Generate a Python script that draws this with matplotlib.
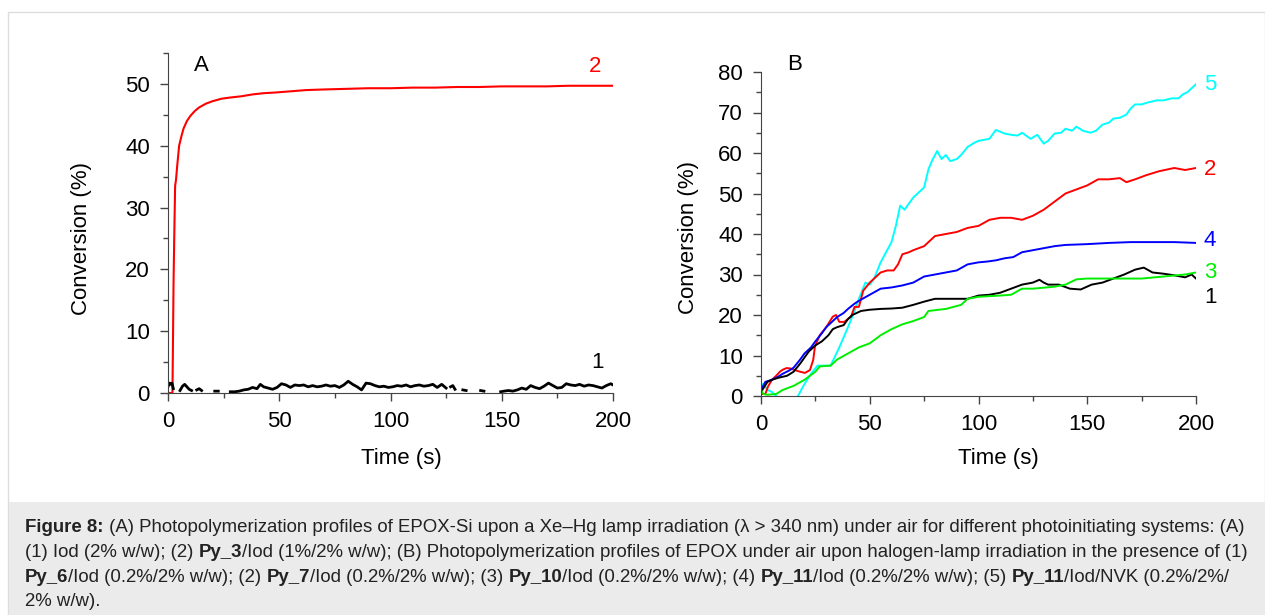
import numpy as np
import matplotlib
matplotlib.use('Agg')
import matplotlib.pyplot as plt
from matplotlib.patches import Rectangle
from matplotlib.ticker import MultipleLocator

nan = np.nan

# Panel A - Xe-Hg lamp, EPOX-Si
a2_t = [0, 2.0, 2.2, 2.5, 2.8, 3.2, 3.6, 4.2, 5, 6, 7, 8.5, 10, 12, 14, 17, 20, 24, 28, 33, 38,
        43, 48, 55, 62, 70, 80, 90, 100, 110, 120, 130, 140, 150, 160, 170, 180, 190, 200]
a2_y = [0, 0, 7, 18, 25, 33.5, 34.5, 37, 40, 41.5, 42.8, 44, 44.8, 45.6, 46.2, 46.8, 47.2, 47.6, 47.8, 48.0, 48.3,
        48.5, 48.6, 48.8, 49.0, 49.1, 49.2, 49.3, 49.3, 49.4, 49.4, 49.5, 49.5, 49.6, 49.6, 49.6, 49.7, 49.7, 49.7]

a1_t = [0, 0.6, 1.2, 1.8, 2.4, nan,
        5.4, 6.5, 7.5, 8.5, 9.5, 10.6, nan,
        12.9, 14, 15.1, nan,
        21, 22.6, nan,
        28, 30, 32, 34, 36, 38, 40, 41.5, 43, 45, 47, 49, 51, 53, 55, 57, 59, 61, 63, 65, 67, 69,
        71, 73, 75, 77, 79, 81, 83, 85, 87, 89, 91, 93, 95, 97, 99, 101, 103, 105, 107, 109, 111,
        113, 115, 117, 119, 121, 123, 125, nan,
        127, 128, 129, nan,
        132.5, 134, nan,
        140.5, 142, nan,
        149.5, 151, 153, 155, 157, 159, 161, 163, 165, 167, 169, 171, 173, 175, 177, 179, 181,
        183, 185, 187, 189, 191, 193, 195, 197, 199, 200]
a1_y = [1.0, 1.6, 1.4, 1.6, 0.7, nan,
        0.4, 1.1, 1.4, 1.0, 0.6, 0.4, nan,
        0.5, 0.7, 0.4, nan,
        0.3, 0.3, nan,
        0.2, 0.2, 0.3, 0.5, 0.6, 0.9, 0.7, 1.4, 1.0, 0.8, 0.6, 0.9, 1.5, 1.3, 0.9, 1.3, 1.2, 1.3, 1.0, 1.2,
        1.0, 1.1, 1.3, 1.1, 1.2, 0.9, 1.3, 1.9, 1.4, 1.0, 0.5, 1.6, 1.5, 1.2, 1.0, 1.1, 0.9, 1.0,
        1.2, 1.1, 1.3, 1.0, 1.2, 1.3, 1.1, 1.2, 1.4, 0.9, 1.4, 0.8, nan,
        1.0, 1.2, 0.6, nan,
        0.5, 0.4, nan,
        0.4, 0.3, nan,
        0.2, 0.3, 0.4, 0.3, 0.5, 0.8, 0.6, 1.2, 0.9, 0.7, 1.1, 1.6, 1.2, 0.8, 0.9, 1.5, 1.3,
        1.2, 1.4, 1.1, 1.3, 1.2, 1.0, 0.8, 1.2, 1.5, 1.3]

# Panel B - halogen lamp, EPOX
b5_t = [0, 1, 3, 5, 7, nan, 17, 20, 23, 26, 29, 32, 36, 40, 43, 45, 48, 50, 52, 55, 58, 60, 62,
        64, 66, 68, 70, 73, 75, 77, 79, 81, 83, 85, 87, 90, 92, 95, 98, 100, 105, 108, 112, 115,
        118, 120, 124, 127, 130, 132, 135, 138, 140, 143, 145, 148, 151.5, 154, 157, 160, 162,
        165, 168, 170, 172, 175, 178, 182, 185, 189, 192, 194, 196, 198, 200]
b5_y = [1.5, 3.0, 1.5, 1.0, 0.0, nan, 0.0, 3.0, 5.5, 7.5, 7.5, 7.5, 12, 17, 21, 24, 28, 27.5, 29,
        33, 36, 38, 42, 47, 46, 47.5, 49, 50.5, 51.5, 56, 58.5, 60.5, 58.5, 59.5, 58, 58.5, 59.5,
        61.5, 62.5, 63, 63.5, 65.7, 64.8, 64.5, 64.3, 65, 63.5, 64.5, 62.3, 63, 64.8, 65, 66,
        65.5, 66.5, 65.5, 65, 65.5, 67, 67.5, 68.5, 68.7, 69.5, 71, 72, 72, 72.5, 73, 73, 73.5,
        73.5, 74.5, 75, 76, 77]

b2_t = [0, 2, 3.2, 5, 7, 8.7, 10, 11.8, 13.5, 15.6, 17.9, 20.2, 22.5, 24, 24.8, 27, 30, 33, 34.5,
        36, 38.3, 41.4, 43, 45, 47, 50, 53, 55, 58, 61, 63, 65, 68, 70, 75, 80, 85, 90, 95, 100,
        105, 110, 115, 120, 125, 130, 135, 140, 145, 150, 155, 160, 165, 168, 172, 177, 183,
        190, 195, 200]
b2_y = [0.5, 0.5, 2.3, 4.0, 5.0, 6.0, 6.5, 6.9, 6.8, 6.4, 6.0, 5.7, 6.4, 8.9, 12.2, 15, 17, 19.6,
        20, 18.3, 18.3, 19.6, 22, 22, 26, 28, 29.5, 30.5, 31, 31, 32.5, 35, 35.5, 36, 37, 39.5, 40,
        40.5, 41.5, 42, 43.5, 44, 44, 43.5, 44.5, 46, 48, 50, 51, 52, 53.5, 53.5, 53.8, 52.8,
        53.5, 54.5, 55.5, 56.3, 55.8, 56.3]

b4_t = [0, 2, 5, 8, 10, 13, 15, 18, 20, 23, 25, 28, 30, 33, 35, 38, 40, 43, 45, 50, 55, 60, 65,
        70, 75, 80, 85, 90, 95, 100, 104, 108, 112, 116, 120, 125, 130, 135, 140, 150, 160, 170,
        180, 190, 200]
b4_y = [1.5, 3.5, 4.0, 4.8, 5.5, 6.3, 7.0, 9.0, 10.5, 12, 13.5, 15.5, 17, 18.5, 19.5, 20.5, 21.5,
        22.8, 23.5, 25, 26.5, 26.8, 27.3, 28, 29.5, 30, 30.5, 31, 32.5, 33, 33.2, 33.5, 34, 34.3,
        35.5, 36, 36.5, 37, 37.3, 37.5, 37.8, 38, 38, 38, 37.8]

b1_t = [0, 3, 5, 8, 12, 15, 18, 20, 22, 25, 28, 31, 33, 35, 38, 40, 42, 46, 50, 55, 60, 65, 70, 75,
        80, 85, 90, 95, 100, 105, 110, 115, 120, 125, 128, 130, 132, 137, 142, 147, 152, 157, 162,
        167, 172, 176, 180, 185, 190, 195, 198, 200]
b1_y = [1.0, 3.5, 4.0, 4.5, 5.0, 6.0, 8.0, 9.5, 11, 12.5, 13.5, 15, 16.5, 17, 17.5, 19, 20, 21,
        21.3, 21.5, 21.6, 21.8, 22.5, 23.3, 24, 24, 24, 24, 24.8, 25, 25.5, 26.5, 27.5, 28, 28.7,
        28, 27.5, 27.5, 26.5, 26.3, 27.5, 28, 29, 30, 31.2, 31.7, 30.5, 30.2, 29.8, 29.3, 30, 29]

b3_t = [0, 1, 3, 7, 10, 15, 20, 25, 27, 32, 35, 40, 45, 50, 55, 60, 65, 70, 75, 77, 85, 92, 95,
        100, 110, 115, 120, 125, 135, 140, 145, 150, 165, 175, 185, 195, 200]
b3_y = [1.5, 0.5, 0.3, 0.5, 1.5, 2.5, 4.0, 6.0, 7.3, 7.5, 9.0, 10.5, 12, 13, 15, 16.5, 17.7, 18.5,
        19.5, 21, 21.5, 22.5, 24, 24.5, 24.8, 25, 26.5, 26.5, 27, 27.5, 28.8, 29, 29, 29, 29.5,
        30, 30.5]

plt.rcParams['font.family'] = ['Liberation Sans', 'DejaVu Sans']

fig = plt.figure(figsize=(12.65, 6.15), dpi=100)

# marco gris y fondo del pie de figura
fig.add_artist(Rectangle((8/1265, 0), 1 - 8/1265, 1 - 12/615, transform=fig.transFigure,
                         facecolor='none', edgecolor='#dddddd', lw=1))
fig.add_artist(Rectangle((9/1265, 0), 1 - 9/1265, 1 - 502/615, transform=fig.transFigure,
                         facecolor='#ebebeb', edgecolor='none'))

axA = fig.add_axes([168/1265, 1 - 393/615, 445/1265, 340/615])
axB = fig.add_axes([761/1265, 1 - 396/615, 435/1265, 324/615])

fs = 16

axA.plot(a2_t, a2_y, color='#ff0000', lw=1.5)
axA.plot(a1_t, a1_y, color='black', lw=2)
axA.set_xlim(0, 200)
axA.set_ylim(0, 55)
axA.yaxis.set_major_locator(MultipleLocator(10))
axA.yaxis.set_minor_locator(MultipleLocator(5))
axA.text(15, 53, 'A', fontsize=fs, ha='center', va='center')
axA.text(192, 52.8, '2', fontsize=fs, color='#ff0000', ha='center', va='center')
axA.text(193, 4.9, '1', fontsize=fs, color='black', ha='center', va='center')

axB.plot(b5_t, b5_y, color='#00ffff', lw=1.4)
axB.plot(b2_t, b2_y, color='#ff0000', lw=1.4)
axB.plot(b4_t, b4_y, color='#0000ff', lw=1.4)
axB.plot(b1_t, b1_y, color='black', lw=1.4)
axB.plot(b3_t, b3_y, color='#00ee00', lw=1.4)
axB.set_xlim(0, 200)
axB.set_ylim(0, 80)
axB.yaxis.set_major_locator(MultipleLocator(10))
axB.yaxis.set_minor_locator(MultipleLocator(5))
axB.text(15.6, 81.8, 'B', fontsize=fs, ha='center', va='center', clip_on=False)
etiquetas = [('5', 77, '#00ffff'), ('2', 56, '#ff0000'), ('4', 38.5, '#0000ff'),
             ('3', 30.6, '#00ee00'), ('1', 24.4, 'black')]
for txt, yy, col in etiquetas:
    axB.text(206.5, yy, txt, fontsize=fs, color=col, ha='center', va='center', clip_on=False)

for ax in (axA, axB):
    ax.spines['top'].set_visible(False)
    ax.spines['right'].set_visible(False)
    ax.spines['left'].set_color('#444444')
    ax.spines['bottom'].set_color('#444444')
    ax.xaxis.set_major_locator(MultipleLocator(50))
    ax.xaxis.set_minor_locator(MultipleLocator(25))
    ax.tick_params(which='major', length=6, width=1, color='#444444', labelsize=fs, pad=7)
    ax.tick_params(which='minor', length=3.5, width=1, color='#444444')
    ax.set_xlabel('Time (s)', fontsize=fs)
    ax.set_ylabel('Conversion (%)', fontsize=fs)

# posiciones de las etiquetas de los ejes como en el original
axA.yaxis.set_label_coords(-0.171, 0.453)
axB.yaxis.set_label_coords(-0.1425, 0.488)
axA.xaxis.set_label_coords(0.524, -0.162)
axB.xaxis.set_label_coords(0.545, -0.160)

# Pie de figura con trozos en negrita
lineas = [
    [('Figure 8:', True), (' (A) Photopolymerization profiles of EPOX-Si upon a Xe\u2013Hg lamp irradiation (\u03bb > 340 nm) under air for different photoinitiating systems: (A)', False)],
    [('(1) Iod (2% w/w); (2) ', False), ('Py_3', True), ('/Iod (1%/2% w/w); (B) Photopolymerization profiles of EPOX under air upon halogen-lamp irradiation in the presence of (1)', False)],
    [('Py_6', True), ('/Iod (0.2%/2% w/w); (2) ', False), ('Py_7', True), ('/Iod (0.2%/2% w/w); (3) ', False),
     ('Py_10', True), ('/Iod (0.2%/2% w/w); (4) ', False), ('Py_11', True), ('/Iod (0.2%/2% w/w); (5) ', False),
     ('Py_11', True), ('/Iod/NVK (0.2%/2%/', False)],
    [('2% w/w).', False)],
]
baselines = [532, 557, 581.5, 606]

fig.canvas.draw()
renderer = fig.canvas.get_renderer()
for partes, yb in zip(lineas, baselines):
    x = 25
    for texto, negrita in partes:
        t = fig.text(x/1265, 1 - yb/615, texto, fontsize=13.4, va='baseline', ha='left',
                     fontweight='bold' if negrita else 'normal', color='#222222')
        bb = t.get_window_extent(renderer=renderer)
        x = bb.x1

fig.savefig('out.png', dpi=100)
